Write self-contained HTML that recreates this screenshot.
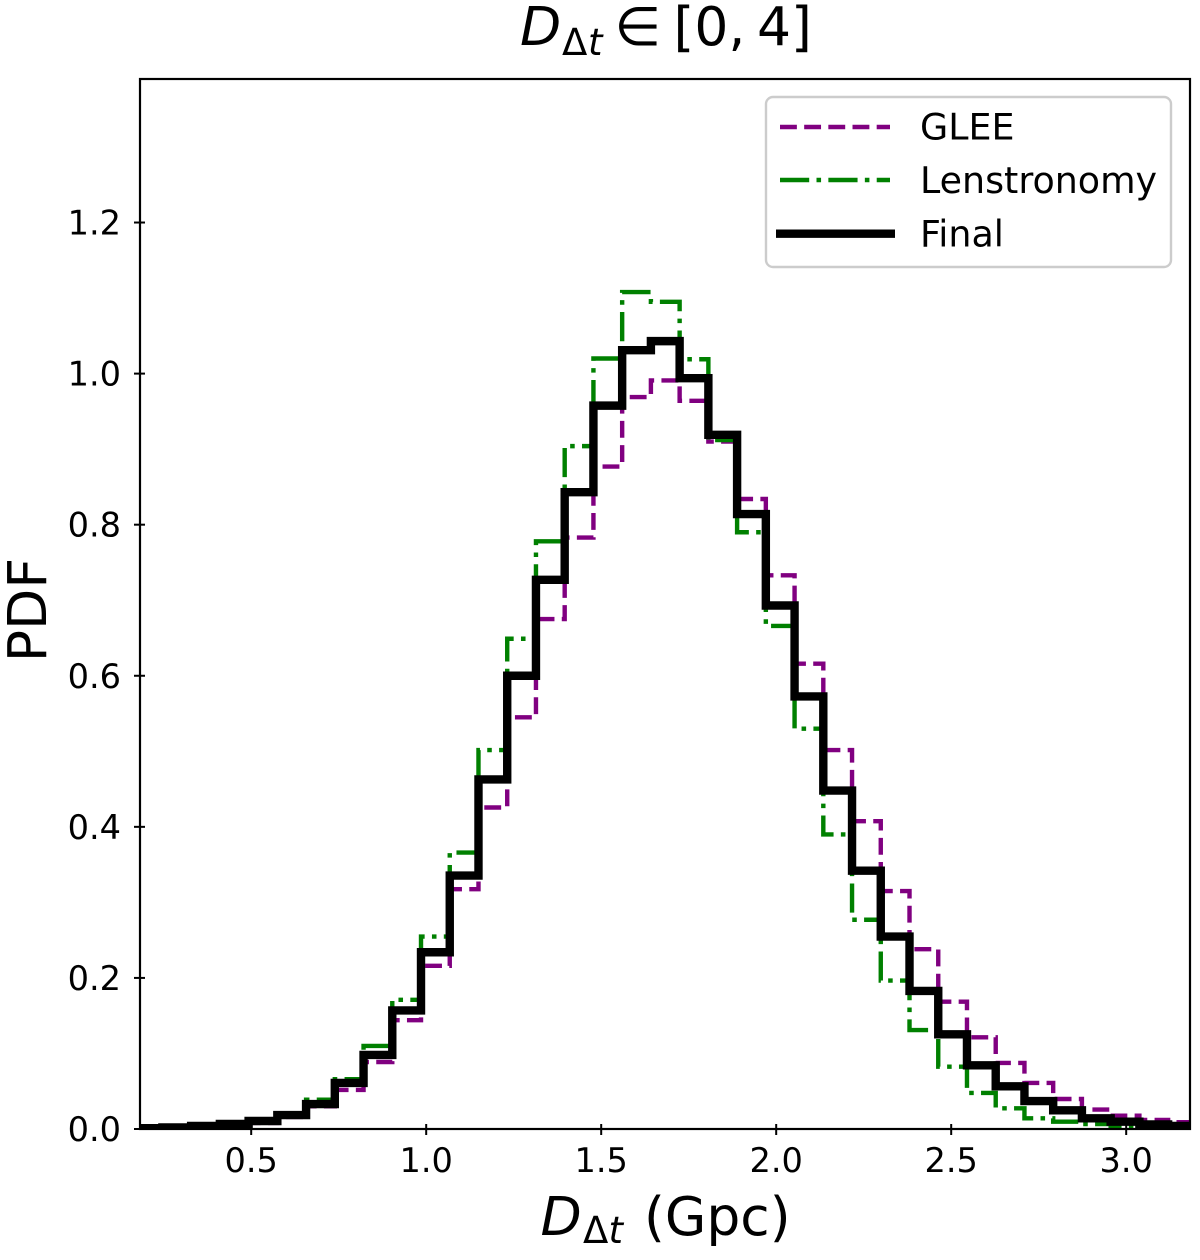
<!DOCTYPE html>
<html>
<head>
<meta charset="utf-8">
<title>PDF histogram</title>
<style>
html,body{margin:0;padding:0;background:#fff;}
svg{display:block;}
text{font-family:"DejaVu Sans",sans-serif;fill:#000;}
.oblique{font-style:oblique;}
</style>
</head>
<body>
<svg id="chart" xmlns="http://www.w3.org/2000/svg" width="1200" height="1260" viewBox="0 0 1200 1260">
  <rect x="0" y="0" width="1200" height="1260" fill="#fff"/>
  <defs><clipPath id="plot-clip"><rect x="140" y="79" width="1050" height="1050"/></clipPath></defs>
  <g id="series-layer" clip-path="url(#plot-clip)"></g>
  <g id="tick-layer"></g>
  <rect x="140" y="79" width="1050" height="1050" fill="none" stroke="#000" stroke-width="2.2"/>

  <g>
    <text x="520" y="45" font-size="53.5" class="oblique">D</text>
    <text x="562" y="55" font-size="37">Δ</text>
    <text x="588" y="55" font-size="37" class="oblique">t</text>
    <text x="614.5" y="45" font-size="53.5">∈</text>
    <text x="673.5" y="45" font-size="53.5">[0,</text>
    <text x="757" y="45" font-size="53.5">4]</text>
  </g>

  <g>
    <text x="540.5" y="1235" font-size="53.5" class="oblique">D</text>
    <text x="583" y="1243" font-size="37">Δ</text>
    <text x="608.5" y="1243" font-size="37" class="oblique">t</text>
    <text x="644" y="1235" font-size="53.5">(Gpc)</text>
  </g>

  <text transform="translate(46,610) rotate(-90)" text-anchor="middle" font-size="53.5">PDF</text>

  <g>
    <rect x="766" y="97" width="405" height="170" rx="7" ry="7" fill="#fff" fill-opacity="0.8" stroke="#ccc" stroke-width="2.4"/>
    <line x1="780" y1="127" x2="890" y2="127" stroke="#800080" stroke-width="4.4" stroke-dasharray="16.87 7.3"/>
    <text x="920" y="139.5" font-size="36.4">GLEE</text>
    <line x1="780" y1="180" x2="890" y2="180" stroke="#008000" stroke-width="4.4" stroke-dasharray="29.2 7.3 4.56 7.3"/>
    <text x="920" y="193" font-size="36.4">Lenstronomy</text>
    <line x1="776" y1="233.7" x2="895" y2="233.7" stroke="#000" stroke-width="8.4"/>
    <text x="920" y="246.5" font-size="36.4">Final</text>
  </g>
</svg>
<script>
// Histogram heights per bin, starting at the first bin (left edge 0 Gpc)
const gleeValues = [0,0,0.0005,0.001,0.002,0.004,0.008,0.016,0.030,0.0517,0.0887,0.144,0.216,0.3175,0.4256,0.545,0.675,0.783,0.877,0.969,0.991,0.964,0.910,0.834,0.733,0.616,0.5016,0.4075,0.315,0.238,0.1686,0.1214,0.0874,0.061,0.0397,0.0257,0.0176,0.012,0.009];
const lenstronomyValues = [0,0,0.0005,0.001,0.002,0.005,0.011,0.021,0.0388,0.066,0.110,0.171,0.2547,0.366,0.5016,0.649,0.778,0.904,1.020,1.108,1.095,1.019,0.912,0.790,0.666,0.530,0.390,0.277,0.1965,0.131,0.0825,0.0477,0.0274,0.0141,0.0097,0.0066,0.003,0.002,0.001];
const finalValues = [0,0,0.001,0.002,0.004,0.0066,0.0106,0.0185,0.033,0.061,0.098,0.157,0.234,0.3355,0.4627,0.600,0.727,0.843,0.9576,1.031,1.043,0.994,0.919,0.814,0.693,0.5726,0.448,0.342,0.2547,0.1828,0.1254,0.0843,0.0565,0.037,0.0247,0.0141,0.0097,0.006,0.004];
const binWidth = 0.0821;
const xTickValues = [0.5,1.0,1.5,2.0,2.5,3.0];
const xTickLabels = ["0.5","1.0","1.5","2.0","2.5","3.0"];
const yTickValues = [0,0.2,0.4,0.6,0.8,1.0,1.2];
const yTickLabels = ["0.0","0.2","0.4","0.6","0.8","1.0","1.2"];

const NS = 'http://www.w3.org/2000/svg';
const xMin = 0.1823, xMax = 3.1823, yMax = 1.39;
const plotLeft = 140, plotRight = 1190, plotTop = 79, plotBottom = 1129;
function xScale(v){ return plotLeft + (v - xMin) / (xMax - xMin) * (plotRight - plotLeft); }
function yScale(v){ return plotBottom - v / yMax * (plotBottom - plotTop); }

function stepPath(values){
  let d = 'M' + xScale(0).toFixed(2) + ' ' + yScale(0).toFixed(2);
  values.forEach(function(v, i){
    d += 'L' + xScale(i * binWidth).toFixed(2) + ' ' + yScale(v).toFixed(2);
    d += 'L' + xScale((i + 1) * binWidth).toFixed(2) + ' ' + yScale(v).toFixed(2);
  });
  return d;
}

const seriesLayer = document.getElementById('series-layer');

const gleePath = document.createElementNS(NS, 'path');


gleePath.setAttribute('d', stepPath(gleeValues));
gleePath.setAttribute('fill', 'none');
gleePath.setAttribute('stroke', '#800080');
gleePath.setAttribute('stroke-width', '4.4');
gleePath.setAttribute('stroke-dasharray', '16.87 7.3');
gleePath.setAttribute('stroke-dashoffset', '19.67');
seriesLayer.appendChild(gleePath);

const lensPath = document.createElementNS(NS, 'path');


lensPath.setAttribute('d', stepPath(lenstronomyValues));
lensPath.setAttribute('fill', 'none');
lensPath.setAttribute('stroke', '#008000');
lensPath.setAttribute('stroke-width', '4.4');
lensPath.setAttribute('stroke-dasharray', '29.2 7.3 4.56 7.3');
lensPath.setAttribute('stroke-dashoffset', '20.3');
seriesLayer.appendChild(lensPath);

const finalPath = document.createElementNS(NS, 'path');


finalPath.setAttribute('d', stepPath(finalValues));
finalPath.setAttribute('fill', 'none');
finalPath.setAttribute('stroke', '#000');
finalPath.setAttribute('stroke-width', '8.4');
finalPath.setAttribute('stroke-linejoin', 'miter');
seriesLayer.appendChild(finalPath);

const tickLayer = document.getElementById('tick-layer');
xTickValues.forEach(function(v, i){
  const px = xScale(v);
  const tick = document.createElementNS(NS, 'line');
  
  
  tick.setAttribute('x1', px); tick.setAttribute('x2', px);
  tick.setAttribute('y1', plotBottom - 5); tick.setAttribute('y2', plotBottom + 6);
  tick.setAttribute('stroke', '#000'); tick.setAttribute('stroke-width', '2');
  tickLayer.appendChild(tick);
  const label = document.createElementNS(NS, 'text');
  
  
  label.setAttribute('x', px); label.setAttribute('y', 1172);
  label.setAttribute('text-anchor', 'middle');
  label.setAttribute('font-size', '33.6');
  label.textContent = xTickLabels[i];
  tickLayer.appendChild(label);
});
yTickValues.forEach(function(v, i){
  const py = yScale(v);
  const tick = document.createElementNS(NS, 'line');
  
  
  tick.setAttribute('x1', plotLeft - 6); tick.setAttribute('x2', plotLeft + 5);
  tick.setAttribute('y1', py); tick.setAttribute('y2', py);
  tick.setAttribute('stroke', '#000'); tick.setAttribute('stroke-width', '2');
  tickLayer.appendChild(tick);
  const label = document.createElementNS(NS, 'text');
  
  
  label.setAttribute('x', 121); label.setAttribute('y', py + 12);
  label.setAttribute('text-anchor', 'end');
  label.setAttribute('font-size', '33.6');
  label.textContent = yTickLabels[i];
  tickLayer.appendChild(label);
});
</script>
</body>
</html>
